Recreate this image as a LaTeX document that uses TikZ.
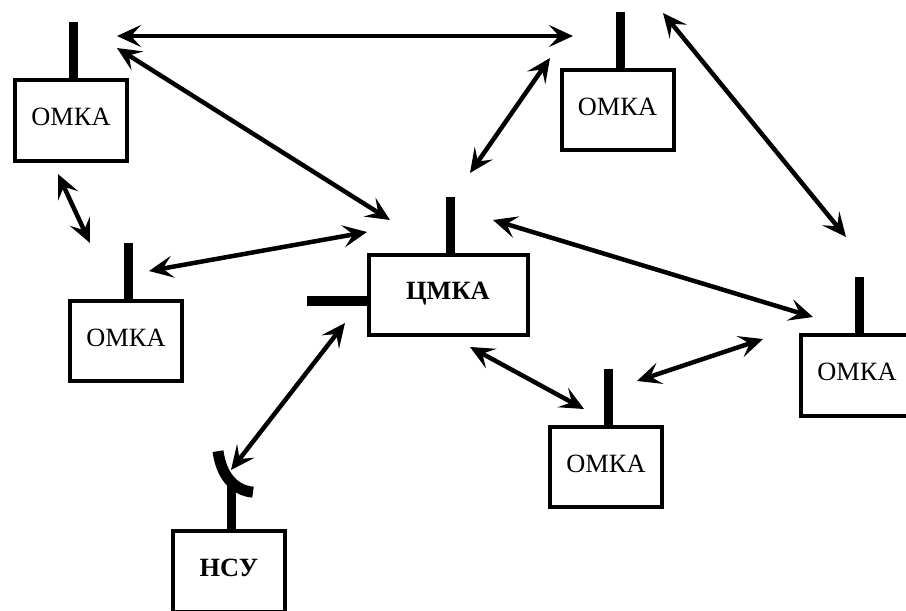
\documentclass[tikz,border=0pt]{standalone}
\usepackage{fontspec}
\setmainfont{Liberation Serif}
\usetikzlibrary{arrows.meta}
\tikzset{
  box/.style={draw,line width=0.12cm,minimum width=3.36cm,minimum height=2.42cm,inner sep=0pt,text depth=0.2cm,font=\fontsize{22.5}{25}\selectfont},
  hub/.style={box,minimum width=4.77cm,minimum height=2.4cm,font=\fontsize{22.5}{25}\selectfont\bfseries},
  mast/.style={line width=0.27cm},
  stub/.style={line width=0.3cm},
  dishline/.style={line width=0.33cm},
  darr/.style={{Stealth[length=0.72cm,width=0.66cm,inset=0.3cm]}-{Stealth[length=0.72cm,width=0.66cm,inset=0.3cm]},line width=0.135cm},
}
\begin{document}
\begin{tikzpicture}[x=0.03cm,y=-0.03cm]
\useasboundingbox (0,0) rectangle (906,610);
% satellites
\node[box] (tl) at (71,120.5) {ОМКА};
\node[box] (tr) at (617.5,110) {ОМКА};
\node[box] (ml) at (126,341) {ОМКА};
\node[box] (bm) at (606,467) {ОМКА};
\node[box] (rt) at (857,375.5) {ОМКА};
\node[hub] (cm) at (448,294.5) {ЦМКА};
\node[box,font=\fontsize{22.5}{25}\selectfont\bfseries] (ns) at (229,571.5) {НСУ};
% antennas
\foreach \n in {tl,tr,ml,bm,rt,cm}
  \draw[mast] ([xshift=0.075cm]\n.north) -- ++(0,-56);
\draw[stub] ([yshift=-0.2cm]cm.west) -- ++(-60,0);
\draw[mast] ([xshift=0.06cm]ns.north) -- ++(0,-50) coordinate (dish);
\draw[dishline] ([shift={(-13,-28)}]dish) .. controls ([shift={(-10,-6)}]dish) and ([shift={(1,11)}]dish) .. ([shift={(22,13)}]dish);
% links
\draw[darr] ([shift={(46,-84.5)}]tl.center) -- ([shift={(-44.5,-74)}]tr.center);
\draw[darr] ([shift={(46,-72.5)}]tl.center) -- ([shift={(-58,-74.5)}]cm.center);
\draw[darr] ([shift={(-13,53.5)}]tl.center) -- ([shift={(-36,-98)}]ml.center);
\draw[darr] ([shift={(23,-70)}]ml.center) -- ([shift={(-81,-62.5)}]cm.center);
\draw[darr] ([shift={(22,-121.5)}]cm.center) -- ([shift={(-67.5,-52)}]tr.center);
\draw[darr] ([shift={(45.5,-97)}]tr.center) -- ([shift={(-11,-138.5)}]rt.center);
\draw[darr] ([shift={(45,-74.5)}]cm.center) -- ([shift={(-44,-58.5)}]rt.center);
\draw[darr] ([shift={(22,52.5)}]cm.center) -- ([shift={(-22,-58)}]bm.center);
\draw[darr] ([shift={(31,-86)}]bm.center) -- ([shift={(-94,-36.5)}]rt.center);
\draw[darr] ([shift={(-103,28.5)}]cm.center) -- ([shift={(2,-101.5)}]ns.center);
\end{tikzpicture}
\end{document}
